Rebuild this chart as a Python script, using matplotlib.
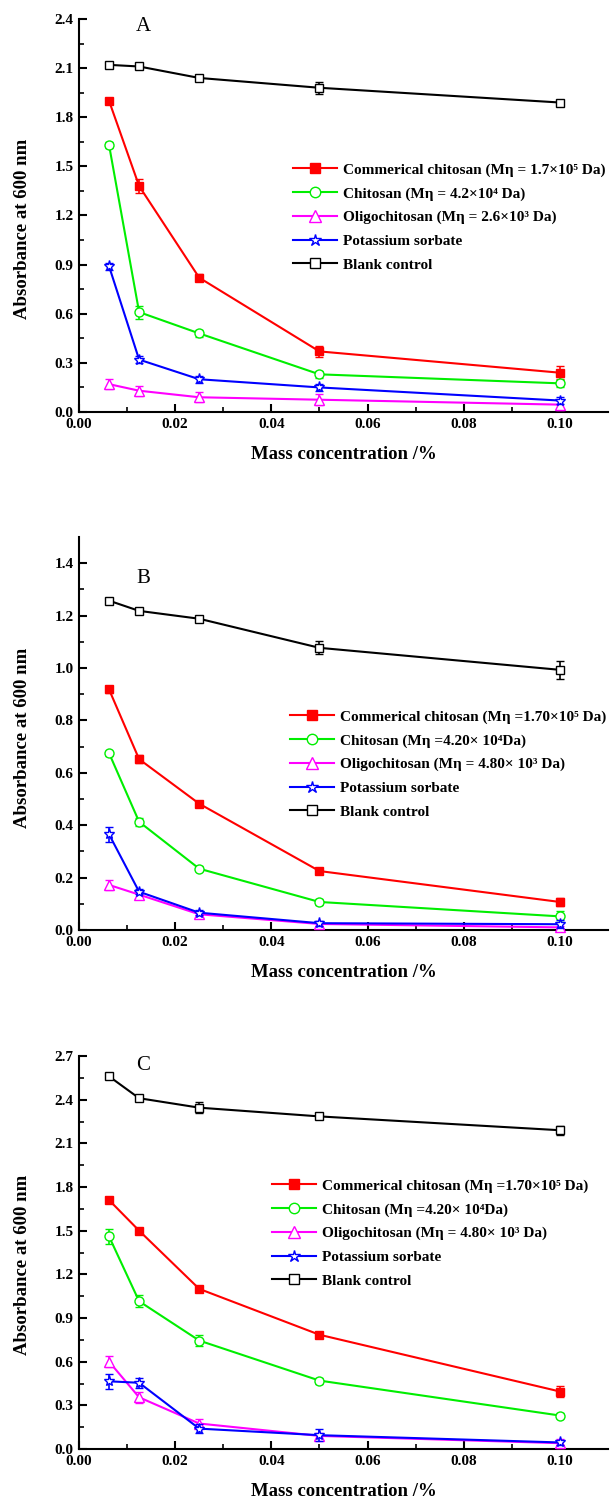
import matplotlib
matplotlib.use("Agg")
import matplotlib.pyplot as plt
from matplotlib.lines import Line2D
import numpy as np

plt.rcParams['font.family'] = ['Liberation Serif', 'DejaVu Serif']

conc = [0.00625, 0.0125, 0.025, 0.05, 0.10]

# Panel A
a_commercial = [1.90, 1.38, 0.82, 0.37, 0.24]
a_commercial_err = [0.02, 0.045, 0.02, 0.035, 0.04]
a_chitosan = [1.63, 0.61, 0.48, 0.23, 0.175]
a_chitosan_err = [0.02, 0.04, 0.02, 0.02, 0.02]
a_oligo = [0.17, 0.13, 0.09, 0.075, 0.045]
a_oligo_err = [0.03, 0.03, 0.03, 0.035, 0.03]
a_sorbate = [0.89, 0.32, 0.20, 0.15, 0.07]
a_sorbate_err = [0.02, 0.02, 0.02, 0.02, 0.02]
a_blank = [2.12, 2.11, 2.04, 1.98, 1.89]
a_blank_err = [0.015, 0.015, 0.015, 0.035, 0.015]

# Panel B
b_commercial = [0.918, 0.652, 0.482, 0.225, 0.107]
b_commercial_err = [0.015, 0.015, 0.01, 0.01, 0.015]
b_chitosan = [0.675, 0.413, 0.234, 0.107, 0.052]
b_chitosan_err = [0.01, 0.015, 0.01, 0.01, 0.02]
b_oligo = [0.172, 0.135, 0.060, 0.023, 0.010]
b_oligo_err = [0.02, 0.015, 0.01, 0.01, 0.005]
b_sorbate = [0.365, 0.146, 0.066, 0.026, 0.022]
b_sorbate_err = [0.03, 0.01, 0.01, 0.01, 0.015]
b_blank = [1.257, 1.218, 1.188, 1.077, 0.993]
b_blank_err = [0.01, 0.01, 0.01, 0.025, 0.035]

# Panel C
c_commercial = [1.71, 1.50, 1.10, 0.785, 0.395]
c_commercial_err = [0.02, 0.02, 0.02, 0.02, 0.04]
c_chitosan = [1.46, 1.015, 0.745, 0.47, 0.23]
c_chitosan_err = [0.05, 0.04, 0.04, 0.02, 0.02]
c_oligo = [0.60, 0.355, 0.175, 0.09, 0.04]
c_oligo_err = [0.04, 0.04, 0.03, 0.02, 0.03]
c_sorbate = [0.465, 0.455, 0.14, 0.095, 0.045]
c_sorbate_err = [0.05, 0.035, 0.03, 0.04, 0.02]
c_blank = [2.56, 2.41, 2.345, 2.285, 2.19]
c_blank_err = [0.02, 0.01, 0.04, 0.01, 0.03]

labels_a = ["Commerical chitosan (Mη = 1.7×10\u2075 Da)",
            "Chitosan (Mη = 4.2×10\u2074 Da)",
            "Oligochitosan (Mη = 2.6×10\u00b3 Da)",
            "Potassium sorbate",
            "Blank control"]
labels_bc = ["Commerical chitosan (Mη =1.70×10\u2075 Da)",
             "Chitosan (Mη =4.20× 10\u2074Da)",
             "Oligochitosan (Mη = 4.80× 10\u00b3 Da)",
             "Potassium sorbate",
             "Blank control"]

colors = ["#ff0000", "#00ee00", "#ff00ff", "#0000ff", "#000000"]
markers = ["s", "o", "^", "*", "s"]
mfc = ["#ff0000", "white", "white", "white", "white"]
msizes = [6, 6.5, 7, 8, 6]

panels = [
    dict(letter="A", ylim=(0, 2.4), yticks=np.arange(0, 2.41, 0.3),
         data=[(a_commercial, a_commercial_err), (a_chitosan, a_chitosan_err),
               (a_oligo, a_oligo_err), (a_sorbate, a_sorbate_err), (a_blank, a_blank_err)],
         labels=labels_a, rect=[79, 19, 608, 412], leg=(293, 163), ly=27, ylab_y=0.467),
    dict(letter="B", ylim=(0, 1.5), yticks=np.arange(0, 1.41, 0.2),
         data=[(b_commercial, b_commercial_err), (b_chitosan, b_chitosan_err),
               (b_oligo, b_oligo_err), (b_sorbate, b_sorbate_err), (b_blank, b_blank_err)],
         labels=labels_bc, rect=[79, 537, 608, 930], leg=(290, 710), ly=578, ylab_y=0.49),
    dict(letter="C", ylim=(0, 2.7), yticks=np.arange(0, 2.71, 0.3),
         data=[(c_commercial, c_commercial_err), (c_chitosan, c_chitosan_err),
               (c_oligo, c_oligo_err), (c_sorbate, c_sorbate_err), (c_blank, c_blank_err)],
         labels=labels_bc, rect=[79, 1056, 608, 1449], leg=(272, 1179), ly=1065, ylab_y=0.468),
]

W, H = 611, 1501
fig = plt.figure(figsize=(W / 100, H / 100), dpi=100)

for p in panels:
    x0, y0, x1, y1 = p["rect"]
    ax = fig.add_axes([x0 / W, 1 - y1 / H, (x1 - x0) / W, (y1 - y0) / H])
    handles = []
    for i, (vals, errs) in enumerate(p["data"]):
        ax.errorbar(conc, vals, yerr=errs, color=colors[i], marker=markers[i],
                    markerfacecolor=mfc[i], markeredgecolor=colors[i], markersize=msizes[i],
                    markeredgewidth=1.0, linewidth=1.5, elinewidth=1.2, capsize=3,
                    capthick=1.2, zorder=3 + i, clip_on=False)
        handles.append(Line2D([], [], color=colors[i], marker=markers[i],
                              markerfacecolor=mfc[i], markeredgecolor=colors[i],
                              markersize=msizes[i] + 1, markeredgewidth=1.0, linewidth=1.5))
    ax.set_xlim(0, 0.11)
    ax.set_ylim(*p["ylim"])
    ax.set_xticks(np.arange(0, 0.101, 0.02))
    ax.set_xticks(np.arange(0.01, 0.11, 0.02), minor=True)
    ax.set_yticks(p["yticks"])
    step = p["yticks"][1] - p["yticks"][0]
    ax.set_yticks(np.arange(step / 2, p["ylim"][1], step), minor=True)
    ax.xaxis.set_major_formatter(matplotlib.ticker.FormatStrFormatter("%.2f"))
    ax.yaxis.set_major_formatter(matplotlib.ticker.FormatStrFormatter("%.1f"))
    for s in ["top", "right"]:
        ax.spines[s].set_visible(False)
    for s in ["left", "bottom"]:
        ax.spines[s].set_linewidth(1.5)
    ax.tick_params(which="major", direction="in", length=6, width=1.5, labelsize=11, pad=4)
    ax.tick_params(which="minor", direction="in", length=3.5, width=1.2)
    for t in ax.get_xticklabels() + ax.get_yticklabels():
        t.set_fontweight("bold")
    ax.set_ylabel("Absorbance at 600 nm", fontsize=13.5, fontweight="bold")
    ax.yaxis.set_label_coords(-0.090, p["ylab_y"])
    ax.set_xlabel("Mass concentration /%", fontsize=13.5, fontweight="bold")
    ax.xaxis.set_label_coords(0.5, -0.086)
    ax.text((143 - x0) / (x1 - x0), (y1 - p["ly"]) / (y1 - y0), p["letter"],
            transform=ax.transAxes, fontsize=15, ha="center", va="center")
    lx, ltop = p["leg"]
    ax.legend(handles, p["labels"], loc="upper left",
              bbox_to_anchor=((lx - x0) / (x1 - x0), (y1 - ltop) / (y1 - y0)),
              frameon=False, borderpad=0, borderaxespad=0, handlelength=2.85,
              handletextpad=0.4, labelspacing=0.65,
              prop={"family": ["Liberation Serif", "DejaVu Serif"], "weight": "bold", "size": 11})

fig.savefig("out.png", dpi=100)
